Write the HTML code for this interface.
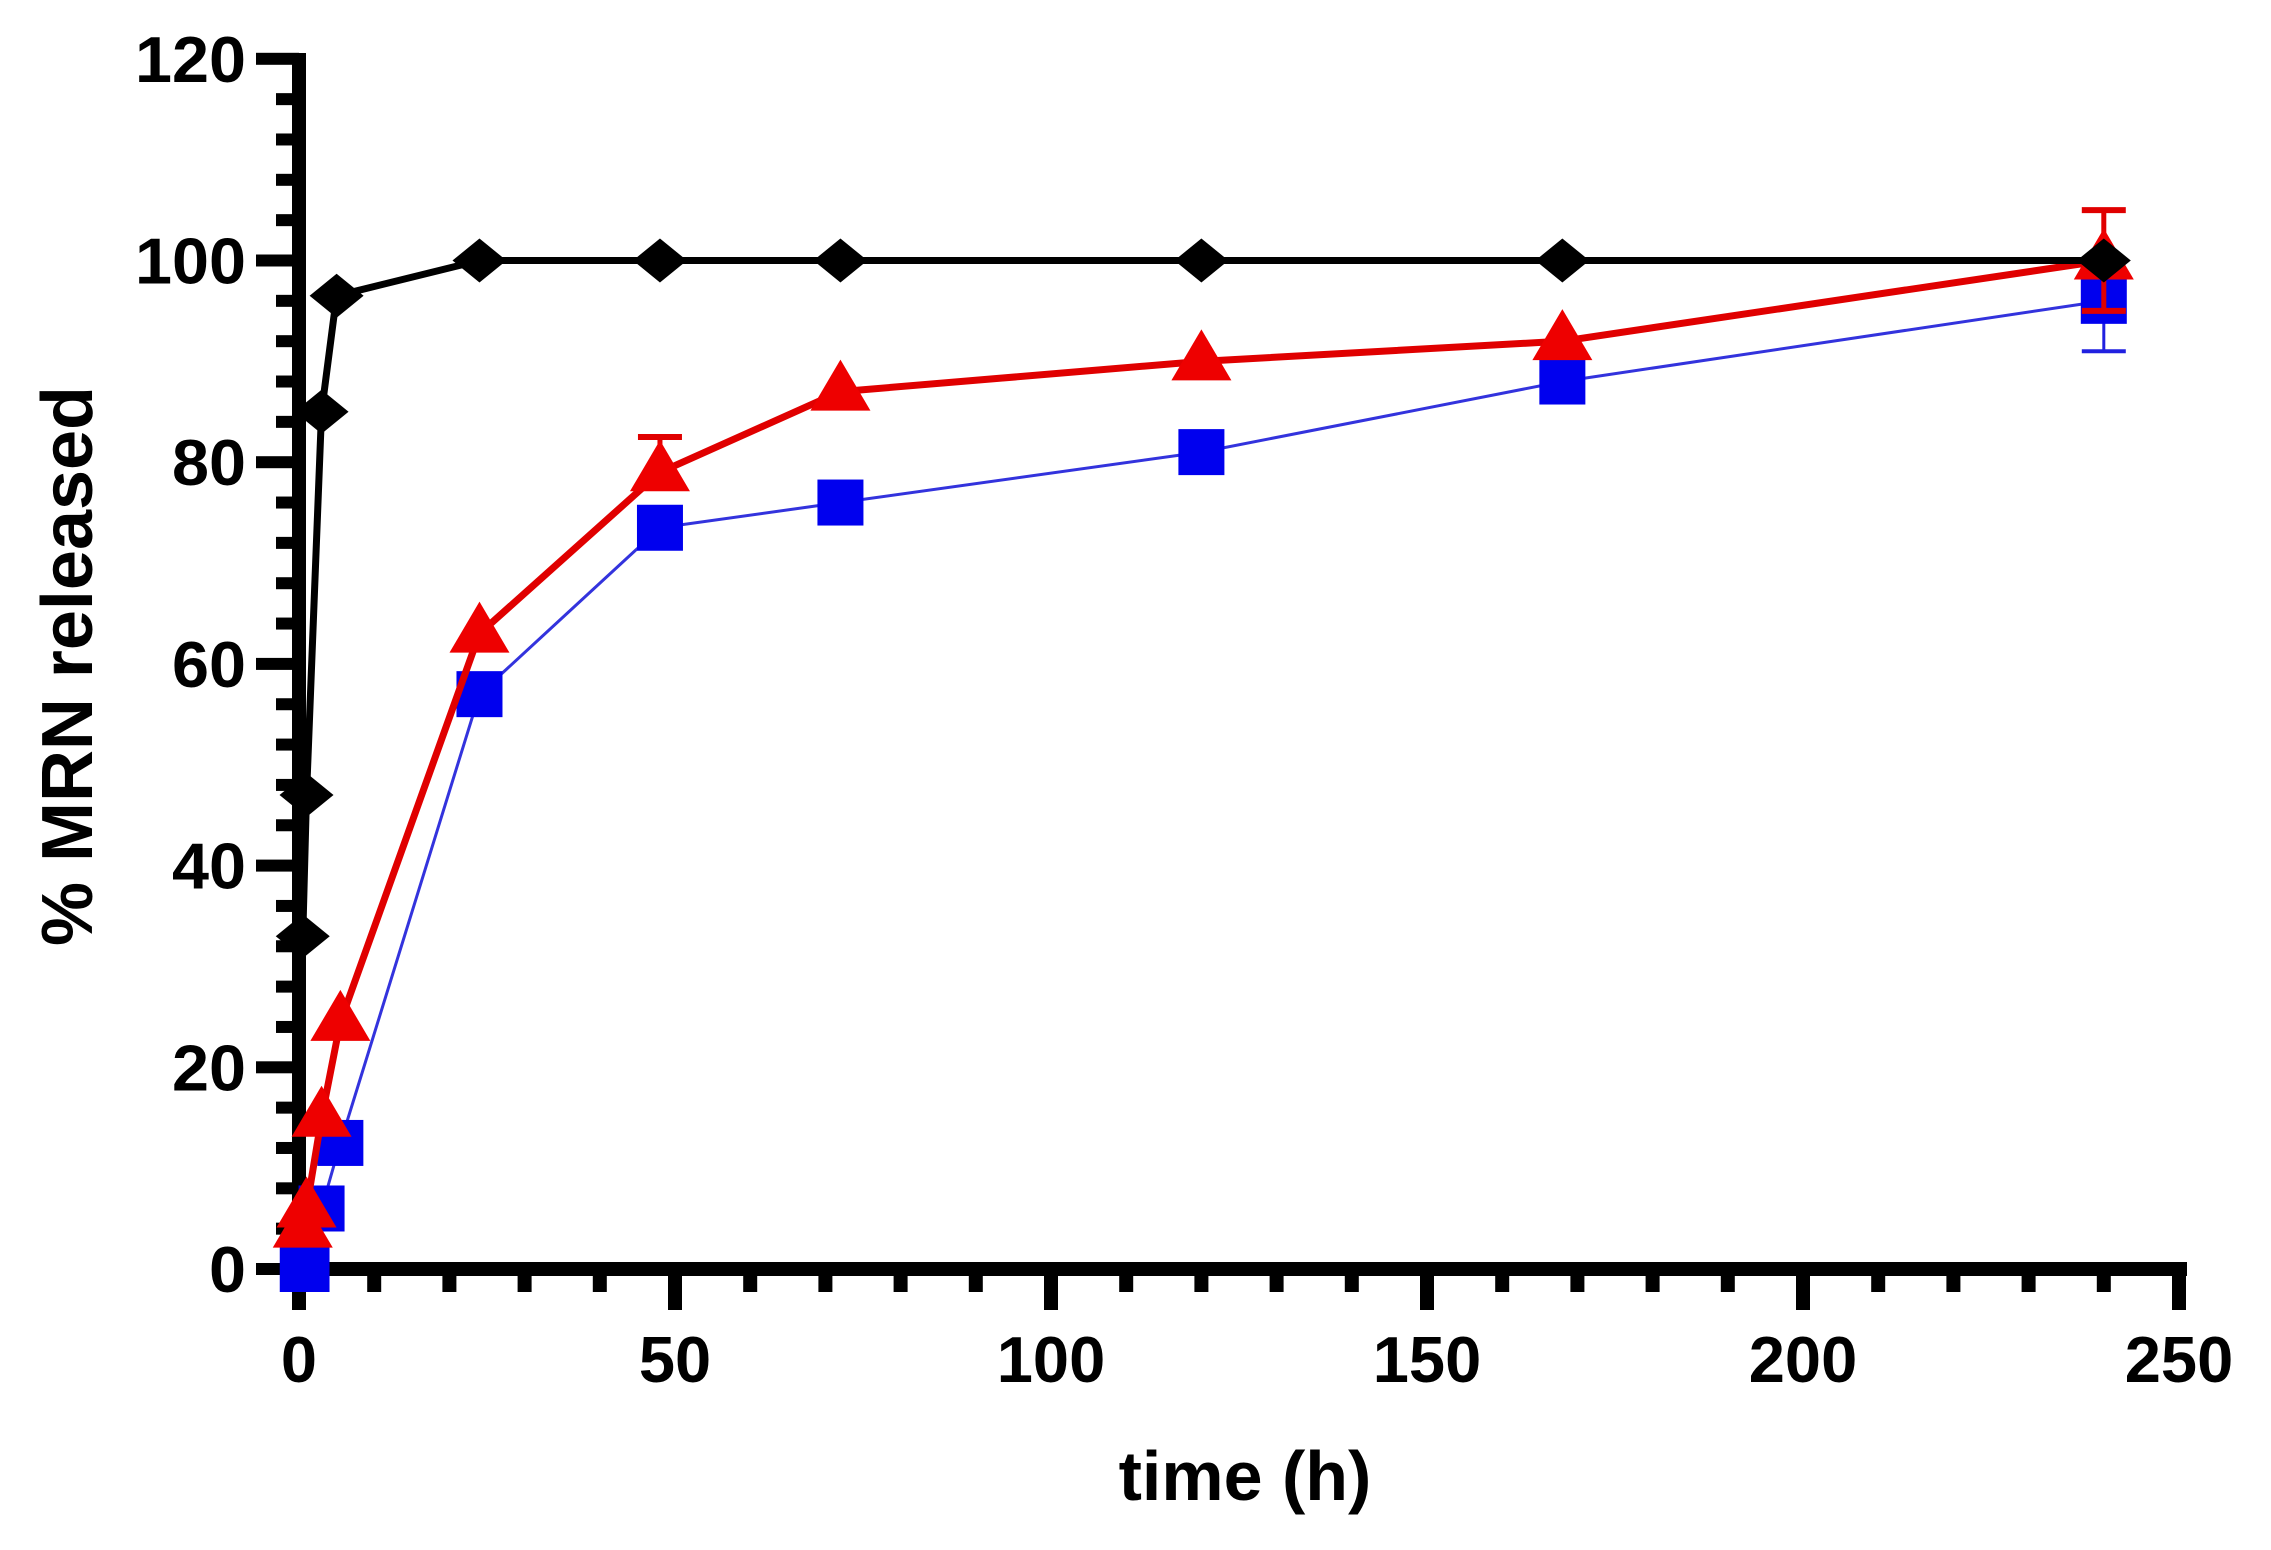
<!DOCTYPE html>
<html><head><meta charset="utf-8"><style>
html,body{margin:0;padding:0;background:#fff;}
svg{display:block;}
text{font-family:"Liberation Sans",sans-serif;font-weight:bold;fill:#000;}
</style></head><body>
<svg id="s" width="2271" height="1550" xmlns="http://www.w3.org/2000/svg"></svg>
<script>
const s=document.getElementById('s');
const X0=299,Y0=1269,KX=7.52,KY=10.085;
const X=t=>X0+t*KX, Y=v=>Y0-v*KY;
let h='';
for(let v=0;v<=120;v+=4){const y=Y(v);const maj=v%20==0;h+=`<rect x="${maj?256:276}" y="${y-6}" width="${299-(maj?256:276)}" height="12" fill="#000"/>`;}
for(let v=0;v<=120;v+=20){const n=String(v).length;h+=`<text x="246" y="${Y(v)+23}" font-size="65" text-anchor="end" textLength="${n*37}" lengthAdjust="spacingAndGlyphs">${v}</text>`;}
for(let t=0;t<=250;t+=10){const x=X(t);const maj=t%50==0;h+=`<rect x="${x-7}" y="1269" width="14" height="${maj?41:23}" fill="#000"/>`;}
for(let t=0;t<=250;t+=50){h+=`<text x="${X(t)}" y="1382" font-size="65" text-anchor="middle">${t}</text>`;}
h+=`<rect x="292" y="53" width="14" height="1223" fill="#000"/>`;
h+=`<rect x="292" y="1262" width="1895" height="14" fill="#000"/>`;
h+=`<text x="1245" y="1500" font-size="70" text-anchor="middle">time (h)</text>`;
h+=`<text transform="translate(92,666) rotate(-90)" font-size="72" text-anchor="middle" textLength="560" lengthAdjust="spacingAndGlyphs">% MRN released</text>`;
const blk=[[0.5,33],[1,47],[3,85],[5,96.5],[24,100],[48,100],[72,100],[120,100],[168,100],[240,100]];
const red=[[0.5,4],[1,6],[3,15],[5.5,24.5],[24,63],[48,79],[72,87],[120,90],[168,92],[240,100]];
const blu=[[0.5,0],[1,0],[3,6],[5.5,12.5],[24,57],[48,73.5],[72,76],[120,81],[168,88],[240,96]];
const pl=(d,c,w)=>`<polyline fill="none" stroke="${c}" stroke-width="${w}" stroke-linejoin="round" points="${d.map(p=>X(p[0])+','+Y(p[1])).join(' ')}"/>`;
const eb=(t,v1,v2,c,w)=>`<line x1="${X(t)}" y1="${Y(v1)}" x2="${X(t)}" y2="${Y(v2)}" stroke="${c}" stroke-width="${w}"/><line x1="${X(t)-22}" y1="${Y(v2)}" x2="${X(t)+22}" y2="${Y(v2)}" stroke="${c}" stroke-width="${w+1}"/>`;
h+=eb(240,96,91,'#2020e0',3);
h+=pl(blu,'#3333dd',3);
h+=blu.map(p=>`<rect x="${X(p[0])-23}" y="${Y(p[1])-23}" width="46" height="46" fill="#0000ee"/>`).join('');
h+=eb(48,79,82.5,'#e00000',5);h+=eb(240,100,105,'#e00000',5);h+=eb(240,100,95,'#e00000',5);
h+=pl(red,'#e00000',7);
h+=red.map(p=>{const x=X(p[0]),y=Y(p[1]);return `<polygon points="${x},${y-32} ${x+30},${y+19} ${x-30},${y+19}" fill="#ee0000"/>`}).join('');
h+=pl(blk,'#000',7);
h+=blk.map(p=>{const x=X(p[0]),y=Y(p[1]);return `<polygon points="${x},${y-22} ${x+27},${y} ${x},${y+22} ${x-27},${y}" fill="#000"/>`}).join('');
s.innerHTML=h;
</script>
</body></html>
